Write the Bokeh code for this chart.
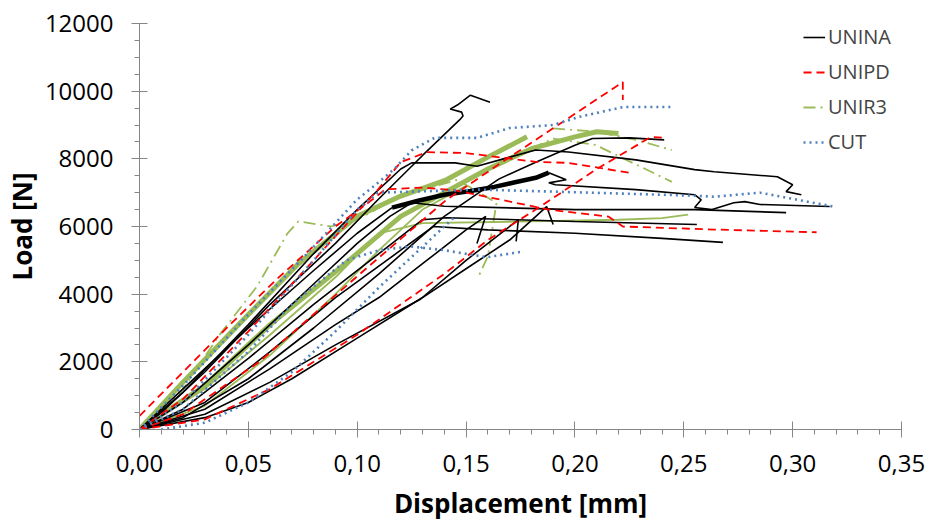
from bokeh.plotting import figure
from bokeh.models import Legend, LegendItem, FixedTicker, CustomJSTickFormatter, Range1d
from bokeh.embed import file_html
from bokeh.resources import INLINE
import numpy as np

# ---- axes ----
x_ticks = [0.00, 0.05, 0.10, 0.15, 0.20, 0.25, 0.30, 0.35]
y_ticks = [0, 2000, 4000, 6000, 8000, 10000, 12000]

# ---- UNINA (black, solid) ----
unina_1_x = [0, 0.01, 0.03, 0.06, 0.09, 0.1095, 0.13, 0.147, 0.1486, 0.148, 0.1427, 0.146, 0.152, 0.161]
unina_1_y = [0, 500, 1700, 3700, 5500, 6790, 8100, 9150, 9265, 9380, 9470, 9590, 9880, 9675]
unina_2_x = [0, 0.02, 0.05, 0.08, 0.11, 0.14, 0.165, 0.182, 0.2, 0.208, 0.225, 0.241]
unina_2_y = [0, 350, 1500, 3000, 4600, 6300, 7400, 7900, 8400, 8600, 8620, 8560]
unina_3_x = [0, 0.02, 0.05, 0.08, 0.1, 0.12, 0.125, 0.145, 0.155, 0.17, 0.182, 0.197, 0.228, 0.255, 0.264, 0.293, 0.300, 0.297, 0.304]
unina_3_y = [0, 1100, 3100, 5200, 6500, 7700, 7880, 7880, 7780, 8050, 8260, 8200, 7970, 7680, 7620, 7470, 7235, 7030, 6940]
unina_4_x = [0, 0.02, 0.05, 0.08, 0.1, 0.116]
unina_4_y = [0, 1200, 3000, 4700, 5800, 6560]
unina_4b_x = [0.116, 0.128, 0.14, 0.152, 0.163, 0.172, 0.182, 0.188]
unina_4b_y = [6560, 6760, 6940, 7050, 7170, 7300, 7440, 7590]
unina_4c_x = [0.188, 0.196, 0.188, 0.191, 0.228, 0.255, 0.258, 0.255, 0.263, 0.273, 0.278, 0.285, 0.317]
unina_4c_y = [7590, 7380, 7290, 7235, 7090, 6940, 6790, 6560, 6500, 6700, 6735, 6650, 6590]
unina_5_x = [0, 0.02, 0.05, 0.08, 0.1, 0.115, 0.125, 0.14, 0.2, 0.255, 0.297]
unina_5_y = [0, 800, 2500, 4300, 5500, 6300, 6700, 6600, 6500, 6500, 6410]
unina_6_x = [0, 0.02, 0.05, 0.08, 0.11, 0.13, 0.141, 0.2, 0.256]
unina_6_y = [0, 600, 2100, 3700, 5200, 6200, 6260, 6150, 6060]
unina_7_x = [0, 0.03, 0.06, 0.09, 0.12, 0.135, 0.16, 0.2, 0.24, 0.268]
unina_7_y = [0, 800, 2300, 3900, 5300, 6000, 5900, 5800, 5650, 5530]
unina_8_x = [0, 0.03, 0.06, 0.09, 0.11, 0.13, 0.15, 0.159, 0.155]
unina_8_y = [0, 600, 1800, 3100, 3900, 4900, 5900, 6300, 5500]
unina_9_x = [0, 0.03, 0.06, 0.09, 0.129, 0.15, 0.174, 0.173]
unina_9_y = [0, 450, 1400, 2500, 3850, 5000, 6200, 5560]
unina_10_x = [0, 0.03, 0.05, 0.07, 0.1, 0.13, 0.15, 0.17, 0.187, 0.19]
unina_10_y = [0, 350, 800, 1500, 2700, 3900, 4750, 5600, 6590, 6060]

# ---- UNIPD (red, dashed) ----
unipd_1_x = [0, 0.02, 0.055, 0.1036, 0.141, 0.17, 0.2, 0.222, 0.222]
unipd_1_y = [0, 450, 2000, 4730, 6790, 8050, 9330, 10270, 9740]
unipd_2_x = [0, 0.03, 0.06, 0.1, 0.14, 0.16, 0.182, 0.21, 0.235, 0.241]
unipd_2_y = [0, 300, 1200, 2800, 4600, 5600, 6500, 7700, 8650, 8620]
unipd_3_x = [0, 0.02, 0.05, 0.08, 0.1095, 0.12, 0.132, 0.15, 0.182, 0.197, 0.225]
unipd_3_y = [0, 900, 2900, 5000, 7090, 7900, 8200, 8170, 7910, 7880, 7590]
unipd_4_x = [0, 0.02, 0.04, 0.063, 0.09, 0.105, 0.113, 0.13, 0.145, 0.188, 0.2155, 0.222, 0.264, 0.311]
unipd_4_y = [400, 1700, 3000, 4440, 6000, 6700, 7100, 7150, 7070, 6500, 6290, 6000, 5910, 5830]

# ---- UNIR3 (green) ----
unir3_1_x = [0, 0.02, 0.05, 0.073, 0.1, 0.12, 0.141, 0.16, 0.178]
unir3_1_y = [0, 1400, 3400, 4900, 6300, 6900, 7380, 8050, 8650]
unir3_2_x = [0, 0.03, 0.06, 0.0945, 0.12, 0.14, 0.16, 0.18, 0.2, 0.21, 0.22]
unir3_2_y = [0, 1300, 3100, 4900, 6300, 7000, 7700, 8300, 8650, 8800, 8750]
unir3_3_x = [0.003, 0.02, 0.037, 0.054, 0.068, 0.073, 0.088, 0.1, 0.12, 0.146, 0.164, 0.16, 0.156]
unir3_3_y = [0, 1200, 2820, 4230, 5800, 6150, 6000, 6200, 6900, 7380, 6700, 5120, 4560]
unir3_4_x = [0.19, 0.21, 0.228, 0.2445]
unir3_4_y = [8900, 8800, 8560, 8260]
unir3_5_x = [0.16, 0.19, 0.2095, 0.2445]
unir3_5_y = [7700, 8600, 8410, 7320]
unir3_6_x = [0, 0.03, 0.06, 0.09, 0.11, 0.13, 0.18, 0.22, 0.24, 0.252]
unir3_6_y = [0, 1200, 2800, 4500, 5800, 6100, 6150, 6200, 6250, 6350]
unir3_7_x = [0, 0.03, 0.06, 0.09, 0.11, 0.13, 0.15]
unir3_7_y = [0, 700, 2200, 4000, 5300, 6500, 7200]

# ---- CUT (blue, dotted) ----
cut_1_x = [0, 0.02, 0.05, 0.08, 0.1, 0.1095, 0.117, 0.125, 0.1355, 0.155, 0.17, 0.19, 0.202, 0.222, 0.2445]
cut_1_y = [0, 1300, 3400, 5400, 6800, 7290, 7700, 8250, 8620, 8620, 8910, 9000, 9240, 9530, 9530]
cut_2_x = [0, 0.02, 0.05, 0.08, 0.1, 0.1095, 0.156, 0.191, 0.255, 0.264, 0.285, 0.3186]
cut_2_y = [0, 800, 2800, 5000, 6500, 7000, 7090, 7030, 6910, 6880, 7000, 6590]
cut_3_x = [0, 0.02, 0.05, 0.07, 0.095, 0.11, 0.1245, 0.14, 0.1595, 0.176]
cut_3_y = [0, 600, 2300, 3700, 5000, 5300, 5410, 5300, 5090, 5260]
cut_4_x = [0.01, 0.03, 0.05, 0.07, 0.09, 0.11, 0.13, 0.145]
cut_4_y = [0, 200, 800, 1700, 2900, 4200, 5400, 6300]

BLACK = "#000000"
RED = "#FF0000"
GREEN = "#9BBB59"
BLUE = "#4F81BD"
FONT = "Open Sans"

p = figure(width=927, height=523, output_backend="svg", toolbar_location=None,
           x_range=Range1d(0, 0.35), y_range=Range1d(0, 12000),
           min_border_left=131, min_border_right=26, min_border_top=23, min_border_bottom=92)
p.outline_line_color = None
p.xgrid.visible = False
p.ygrid.visible = False

# green
p.line(unir3_1_x, unir3_1_y, color=GREEN, line_width=5)
p.line(unir3_2_x, unir3_2_y, color=GREEN, line_width=5)
p.line(unir3_6_x, unir3_6_y, color=GREEN, line_width=1.8)
p.line(unir3_7_x, unir3_7_y, color=GREEN, line_width=1.8)
g_leg = p.line(unir3_3_x, unir3_3_y, color=GREEN, line_width=1.8, line_dash="12 5 2 5")
p.line(unir3_4_x, unir3_4_y, color=GREEN, line_width=1.8, line_dash="12 5 2 5")
p.line(unir3_5_x, unir3_5_y, color=GREEN, line_width=1.8, line_dash="12 5 2 5")

# black
b_leg = p.line(unina_1_x, unina_1_y, color=BLACK, line_width=1.6)
for xs, ys in [(unina_2_x, unina_2_y), (unina_3_x, unina_3_y), (unina_4_x, unina_4_y),
               (unina_4c_x, unina_4c_y), (unina_5_x, unina_5_y), (unina_6_x, unina_6_y),
               (unina_7_x, unina_7_y), (unina_8_x, unina_8_y), (unina_9_x, unina_9_y),
               (unina_10_x, unina_10_y)]:
    p.line(xs, ys, color=BLACK, line_width=1.6)
p.line(unina_4b_x, unina_4b_y, color=BLACK, line_width=4.5)

# red
r_leg = p.line(unipd_1_x, unipd_1_y, color=RED, line_width=1.8, line_dash="8 5")
for xs, ys in [(unipd_2_x, unipd_2_y), (unipd_3_x, unipd_3_y), (unipd_4_x, unipd_4_y)]:
    p.line(xs, ys, color=RED, line_width=1.8, line_dash="8 5")

# blue
c_leg = p.line(cut_1_x, cut_1_y, color=BLUE, line_width=2.6, line_dash="2 4")
for xs, ys in [(cut_2_x, cut_2_y), (cut_3_x, cut_3_y), (cut_4_x, cut_4_y)]:
    p.line(xs, ys, color=BLUE, line_width=2.6, line_dash="2 4")

# axes
AX = "#868686"
for ax in (p.xaxis[0], p.yaxis[0]):
    ax.axis_line_color = AX
    ax.major_tick_line_color = AX
    ax.minor_tick_line_color = AX
    ax.major_tick_in = 8
    ax.major_tick_out = 8
    ax.minor_tick_in = 0
    ax.minor_tick_out = 5
    ax.major_label_text_font = FONT
    ax.major_label_text_font_size = "24px"
    ax.major_label_text_color = "#000000"
    ax.axis_label_text_font = FONT
    ax.axis_label_text_font_size = "26px"
    ax.axis_label_text_font_style = "bold"
    ax.axis_label_text_color = "#000000"

p.xaxis.ticker = FixedTicker(ticks=x_ticks, minor_ticks=list(np.arange(0, 0.3501, 0.01)))
p.yaxis.ticker = FixedTicker(ticks=y_ticks, minor_ticks=list(np.arange(0, 12001, 500)))
p.xaxis.formatter = CustomJSTickFormatter(code="return tick.toFixed(2).replace('.', ',');")
p.xaxis.axis_label = "Displacement [mm]"
p.yaxis.axis_label = "Load [N]"
p.xaxis.major_label_standoff = 17
p.yaxis.major_label_standoff = 18
p.xaxis.axis_label_standoff = 10
p.yaxis.axis_label_standoff = 2

legend = Legend(items=[LegendItem(label="UNINA", renderers=[b_leg]),
                       LegendItem(label="UNIPD", renderers=[r_leg]),
                       LegendItem(label="UNIR3", renderers=[g_leg]),
                       LegendItem(label="CUT", renderers=[c_leg])],
                location=(664, 274), padding=0, margin=0, spacing=8,
                label_height=20, glyph_height=20, glyph_width=22, label_standoff=3,
                label_text_font=FONT, label_text_font_size="20px",
                background_fill_alpha=0, border_line_color=None)
p.add_layout(legend)

open("out.html", "w").write(file_html(p, INLINE))
